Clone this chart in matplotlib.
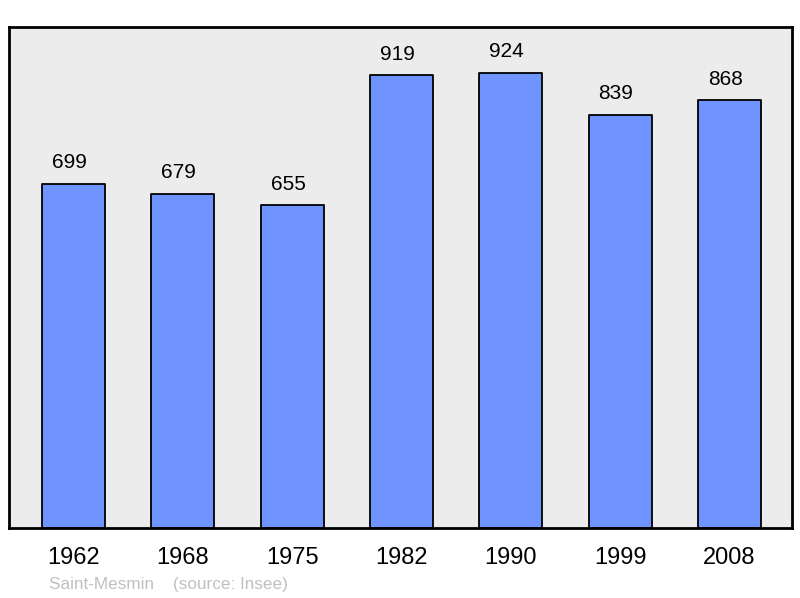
import matplotlib
matplotlib.use("Agg")
import matplotlib.pyplot as plt

years = ["1962", "1968", "1975", "1982", "1990", "1999", "2008"]
population = [699, 679, 655, 919, 924, 839, 868]
town = "Saint-Mesmin"
source = "(source: Insee)"

plt.rcParams['font.family'] = ['Liberation Sans', 'DejaVu Sans']

fig = plt.figure(figsize=(8, 5.98), dpi=100)
W, H = 800, 598
ax = fig.add_axes([9 / W, 1 - 528 / H, (792 - 9) / W, (528 - 27) / H])
ax.set_facecolor('#ececec')

x = list(range(len(years)))
bars = ax.bar(x, population, width=0.576, color='#7094ff', edgecolor='black',
              linewidth=1.3, zorder=2)
for b in bars:
    b.set_joinstyle('round')

ax.set_xlim(-0.59, len(years) - 1 + 0.572)
ax.set_ylim(0, 1017)

for xi, v in zip(x, population):
    ax.annotate(str(v), (xi, v), xytext=(-3, 15), textcoords='offset points',
                ha='center', va='center', fontsize=15, color='black')

ax.set_xticks(x)
ax.set_xticklabels(years, fontsize=17)
ax.tick_params(axis='x', length=0, pad=14)
ax.set_yticks([])
for s in ax.spines.values():
    s.set_linewidth(2)
    s.set_color('black')
    s.set_joinstyle('round')

fig.text(49 / W, 1 - 584 / H, town + "    " + source, fontsize=12.3,
         color='#c0c0c0', ha='left', va='center')

fig.savefig('out.png', dpi=100)
